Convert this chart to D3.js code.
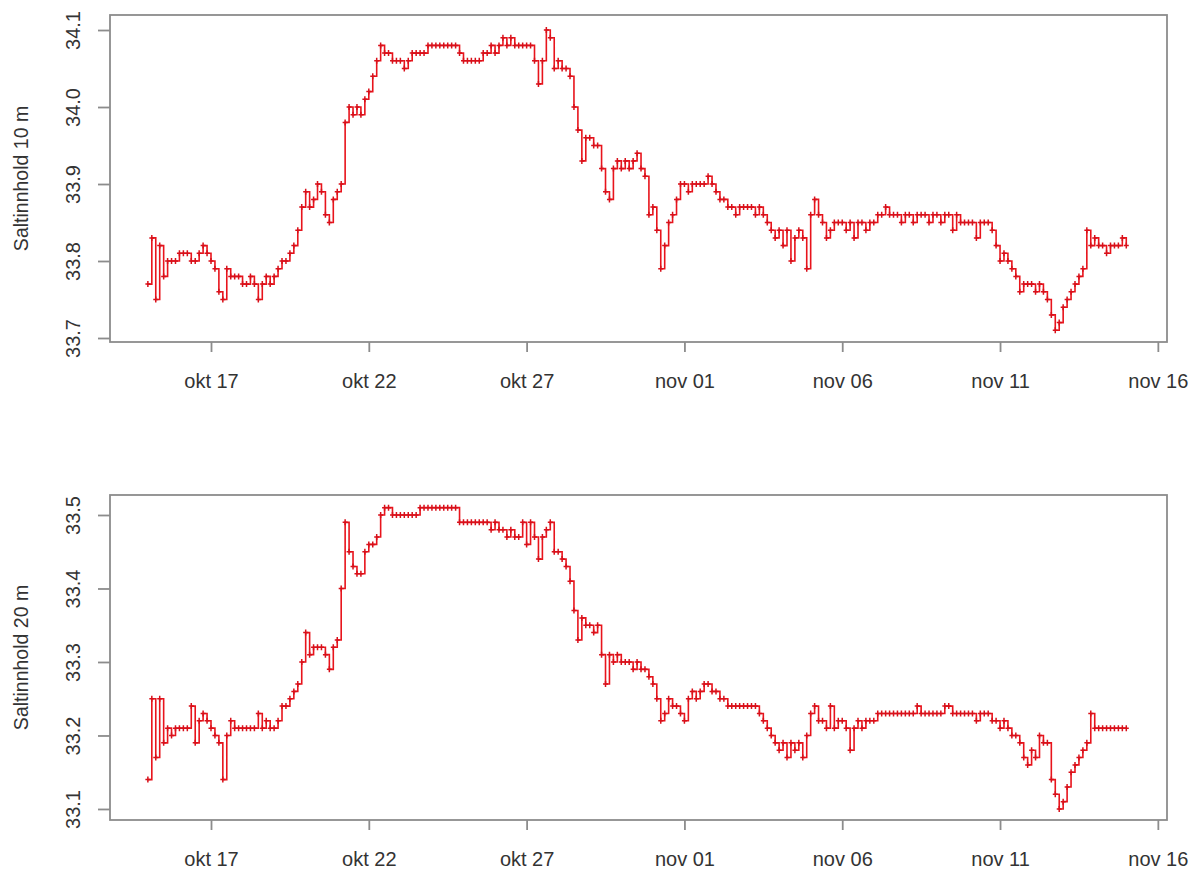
<!DOCTYPE html>
<html>
<head>
<meta charset="utf-8">
<script src="https://cdn.jsdelivr.net/npm/d3@7"></script>
<style>
  html, body { margin: 0; padding: 0; background: #fff; }
  svg { display: block; }
  text { font-family: "Liberation Sans", Arial, sans-serif; fill: #333; }
</style>
</head>
<body>
<svg id="chart" width="1192" height="874"></svg>
<script>
// ---- data (3-hourly readings from 15 Oct 00:00) ----
const startTime = Date.UTC(2012, 9, 15, 0, 0);
const stepHours = 3;

const salt10 = [
  33.77, 33.83, 33.75, 33.82, 33.78, 33.80, 33.80, 33.80,
  33.81, 33.81, 33.81, 33.80, 33.80, 33.81, 33.82, 33.81,
  33.80, 33.79, 33.76, 33.75, 33.79, 33.78, 33.78, 33.78,
  33.77, 33.77, 33.78, 33.77, 33.75, 33.77, 33.78, 33.77,
  33.78, 33.79, 33.80, 33.80, 33.81, 33.82, 33.84, 33.87,
  33.89, 33.87, 33.88, 33.90, 33.89, 33.86, 33.85, 33.88,
  33.89, 33.90, 33.98, 34.00, 33.99, 34.00, 33.99, 34.01,
  34.02, 34.04, 34.06, 34.08, 34.07, 34.07, 34.06, 34.06,
  34.06, 34.05, 34.06, 34.07, 34.07, 34.07, 34.07, 34.08,
  34.08, 34.08, 34.08, 34.08, 34.08, 34.08, 34.08, 34.07,
  34.06, 34.06, 34.06, 34.06, 34.06, 34.07, 34.07, 34.08,
  34.07, 34.08, 34.09, 34.08, 34.09, 34.08, 34.08, 34.08,
  34.08, 34.08, 34.06, 34.03, 34.06, 34.10, 34.09, 34.05,
  34.06, 34.05, 34.05, 34.04, 34.00, 33.97, 33.93, 33.96,
  33.96, 33.95, 33.95, 33.92, 33.89, 33.88, 33.92, 33.93,
  33.92, 33.93, 33.92, 33.93, 33.94, 33.92, 33.91, 33.86,
  33.87, 33.84, 33.79, 33.82, 33.85, 33.86, 33.88, 33.90,
  33.90, 33.89, 33.90, 33.90, 33.90, 33.90, 33.91, 33.90,
  33.89, 33.88, 33.88, 33.87, 33.87, 33.86, 33.87, 33.87,
  33.87, 33.87, 33.86, 33.87, 33.86, 33.85, 33.84, 33.83,
  33.84, 33.82, 33.84, 33.80, 33.83, 33.84, 33.83, 33.79,
  33.86, 33.88, 33.86, 33.85, 33.83, 33.84, 33.85, 33.85,
  33.85, 33.84, 33.85, 33.83, 33.85, 33.85, 33.84, 33.85,
  33.85, 33.86, 33.86, 33.87, 33.86, 33.86, 33.86, 33.85,
  33.86, 33.86, 33.85, 33.86, 33.86, 33.86, 33.85, 33.86,
  33.86, 33.85, 33.86, 33.86, 33.84, 33.86, 33.85, 33.85,
  33.85, 33.85, 33.83, 33.85, 33.85, 33.85, 33.84, 33.82,
  33.80, 33.81, 33.80, 33.79, 33.78, 33.76, 33.77, 33.77,
  33.77, 33.76, 33.77, 33.76, 33.75, 33.73, 33.71, 33.72,
  33.74, 33.75, 33.76, 33.77, 33.78, 33.79, 33.84, 33.82,
  33.83, 33.82, 33.82, 33.81, 33.82, 33.82, 33.82, 33.83,
  33.82
];

const salt20 = [
  33.14, 33.25, 33.17, 33.25, 33.19, 33.21, 33.20, 33.21,
  33.21, 33.21, 33.21, 33.24, 33.19, 33.22, 33.23, 33.22,
  33.21, 33.20, 33.19, 33.14, 33.20, 33.22, 33.21, 33.21,
  33.21, 33.21, 33.21, 33.21, 33.23, 33.21, 33.22, 33.21,
  33.21, 33.22, 33.24, 33.24, 33.25, 33.26, 33.27, 33.30,
  33.34, 33.31, 33.32, 33.32, 33.32, 33.31, 33.29, 33.32,
  33.33, 33.40, 33.49, 33.45, 33.43, 33.42, 33.42, 33.45,
  33.46, 33.46, 33.47, 33.50, 33.51, 33.51, 33.50, 33.50,
  33.50, 33.50, 33.50, 33.50, 33.50, 33.51, 33.51, 33.51,
  33.51, 33.51, 33.51, 33.51, 33.51, 33.51, 33.51, 33.49,
  33.49, 33.49, 33.49, 33.49, 33.49, 33.49, 33.49, 33.48,
  33.49, 33.48, 33.48, 33.47, 33.48, 33.47, 33.47, 33.49,
  33.46, 33.49, 33.47, 33.44, 33.47, 33.48, 33.49, 33.45,
  33.45, 33.44, 33.43, 33.41, 33.37, 33.33, 33.36, 33.35,
  33.35, 33.34, 33.35, 33.31, 33.27, 33.31, 33.30, 33.31,
  33.30, 33.30, 33.30, 33.29, 33.30, 33.29, 33.29, 33.28,
  33.27, 33.25, 33.22, 33.23, 33.25, 33.24, 33.24, 33.23,
  33.22, 33.25, 33.26, 33.25, 33.26, 33.27, 33.27, 33.26,
  33.26, 33.25, 33.25, 33.24, 33.24, 33.24, 33.24, 33.24,
  33.24, 33.24, 33.24, 33.23, 33.22, 33.21, 33.20, 33.19,
  33.18, 33.19, 33.17, 33.19, 33.18, 33.19, 33.17, 33.20,
  33.23, 33.24, 33.22, 33.22, 33.21, 33.24, 33.21, 33.22,
  33.22, 33.21, 33.18, 33.21, 33.22, 33.21, 33.22, 33.22,
  33.22, 33.23, 33.23, 33.23, 33.23, 33.23, 33.23, 33.23,
  33.23, 33.23, 33.23, 33.24, 33.23, 33.23, 33.23, 33.23,
  33.23, 33.23, 33.24, 33.24, 33.23, 33.23, 33.23, 33.23,
  33.23, 33.23, 33.22, 33.23, 33.23, 33.23, 33.22, 33.22,
  33.21, 33.22, 33.21, 33.20, 33.20, 33.19, 33.17, 33.16,
  33.18, 33.17, 33.20, 33.19, 33.19, 33.14, 33.12, 33.10,
  33.11, 33.13, 33.15, 33.16, 33.17, 33.18, 33.19, 33.23,
  33.21, 33.21, 33.21, 33.21, 33.21, 33.21, 33.21, 33.21,
  33.21
];

const yTicks10 = [33.7, 33.8, 33.9, 34.0, 34.1];
const yTicks20 = [33.1, 33.2, 33.3, 33.4, 33.5];
const xTickDates = ["2012-10-17", "2012-10-22", "2012-10-27", "2012-11-01", "2012-11-06", "2012-11-11", "2012-11-16"];
const monthNames = ["jan", "feb", "mar", "apr", "mai", "jun", "jul", "aug", "sep", "okt", "nov", "des"];
const yLabels = ["Saltinnhold 10 m", "Saltinnhold 20 m"];

// ---- layout ----
const svg = d3.select("#chart");
const left = 110, right = 1167;
const DAY = 86400000;
const x = d3.scaleUtc()
  .domain([new Date(startTime - 1.2 * DAY), new Date(startTime + 32.29 * DAY)])
  .range([left, right]);

const panels = [
  { values: salt10, ticks: yTicks10, label: yLabels[0], top: 15, bottom: 342, domain: [33.6948, 34.1195] },
  { values: salt20, ticks: yTicks20, label: yLabels[1], top: 495, bottom: 820, domain: [33.085, 33.5272] }
];

const fmt = d => monthNames[d.getUTCMonth()] + " " + String(d.getUTCDate()).padStart(2, "0");
const xTicks = xTickDates.map(s => new Date(s + "T00:00:00Z"));
const FONT = "'Liberation Sans', Arial, sans-serif";

panels.forEach(p => {
  const y = d3.scaleLinear().domain(p.domain).range([p.bottom, p.top]);
  const g = svg.append("g");
  const data = p.values.map((v, i) => ({ t: new Date(startTime + i * stepHours * 3600000), v }));

  // box
  g.append("rect")
    .attr("x", left).attr("y", p.top)
    .attr("width", right - left).attr("height", p.bottom - p.top)
    .attr("fill", "none").attr("stroke", "#8c8c8c").attr("stroke-width", 1.8);

  // y axis
  const ya = g.append("g").attr("transform", `translate(${left},0)`)
    .call(d3.axisLeft(y).tickValues(p.ticks).tickSize(12).tickFormat(d3.format(".1f")));
  ya.select(".domain").remove();
  ya.selectAll(".tick line").attr("stroke", "#8c8c8c").attr("stroke-width", 1.8);
  ya.selectAll(".tick text")
    .attr("x", 0).attr("dy", 0)
    .attr("transform", "translate(-30,0) rotate(-90)")
    .attr("text-anchor", "middle")
    .style("font-size", "20px").style("font-family", FONT).attr("fill", "#3a3a3a");

  // x axis
  const xa = g.append("g").attr("transform", `translate(0,${p.bottom})`)
    .call(d3.axisBottom(x).tickValues(xTicks).tickSize(10).tickFormat(fmt));
  xa.select(".domain").remove();
  xa.selectAll(".tick line").attr("stroke", "#8c8c8c").attr("stroke-width", 1.8);
  xa.selectAll(".tick text")
    .attr("y", 46).attr("dy", 0)
    .style("font-size", "20px").style("font-family", FONT).attr("fill", "#3a3a3a");

  // y title
  g.append("text")
    .attr("transform", `translate(28,${(p.top + p.bottom) / 2}) rotate(-90)`)
    .attr("text-anchor", "middle")
    .style("font-size", "19.5px").attr("fill", "#3a3a3a")
    .text(p.label);

  // series line (stepped, like the logger trace)
  const line = d3.line().curve(d3.curveStepAfter).x(d => x(d.t)).y(d => y(d.v));
  g.append("path").datum(data)
    .attr("d", line)
    .attr("fill", "none").attr("stroke", "#e8141c").attr("stroke-width", 1.6);

  // point markers (+)
  g.append("path")
    .attr("d", data.map(d => {
      const px = x(d.t), py = y(d.v);
      return `M${px - 2.5},${py}h5M${px},${py - 3}v6`;
    }).join(""))
    .attr("fill", "none").attr("stroke", "#d8101a").attr("stroke-width", 1.5);
});
</script>
</body>
</html>
